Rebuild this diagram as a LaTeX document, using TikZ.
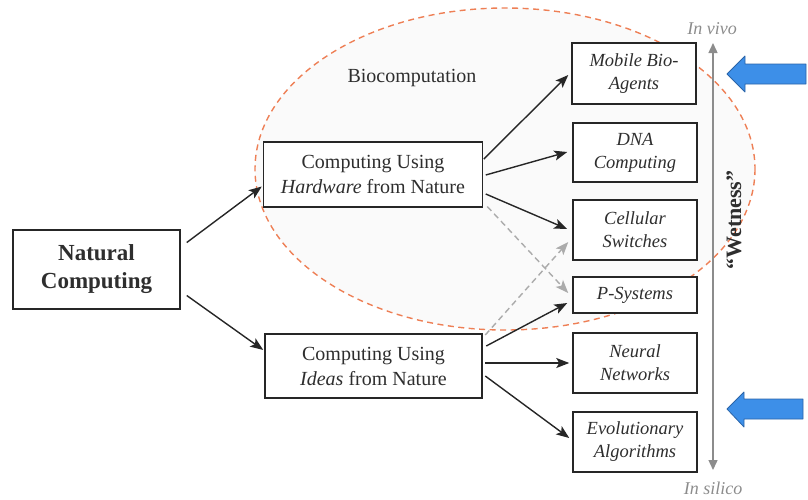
\documentclass[tikz,border=0pt]{standalone}
\usepackage{fontspec}
\setmainfont{Liberation Serif}
\usetikzlibrary{arrows.meta,calc}
\definecolor{txt}{HTML}{2E2E2E}
\definecolor{edge}{HTML}{262626}
\definecolor{ell}{HTML}{EE7F55}
\definecolor{blu}{HTML}{3D8FE8}
\definecolor{bluedge}{HTML}{2A64A8}
\definecolor{grayarr}{HTML}{8C8C8C}
\definecolor{dashgray}{HTML}{ABABAB}
\tikzset{
  box/.style={draw=edge, line width=1.5pt, fill=white, text=txt, align=center, inner sep=0pt},
  leftbox/.style={box, font=\fontsize{23}{28}\selectfont\bfseries, minimum width=167pt, minimum height=79pt},
  midbox/.style={box, font=\fontsize{20}{25}\selectfont, minimum width=219pt, minimum height=65pt},
  rbox/.style={box, font=\fontsize{18.5}{23}\selectfont\itshape, minimum width=124pt, minimum height=60pt},
  conn/.style={draw=edge, line width=1.4pt, -{Stealth[length=13pt,width=10pt,inset=3pt]}},
  dconn/.style={draw=dashgray, line width=1.4pt, dash pattern=on 6pt off 4pt, -{Stealth[length=13pt,width=10pt,inset=3pt]}},
  bluearrow/.style={fill=blu, draw=bluedge, line width=0.8pt, line join=round},
  scaletxt/.style={text=grayarr, font=\fontsize{18}{22}\selectfont\itshape},
}
\begin{document}
\begin{tikzpicture}[x=1pt,y=-1pt]
\useasboundingbox (0,0) rectangle (808,499);
% ellipse
\draw[ell, line width=1.4pt, dash pattern=on 6pt off 4.5pt, fill=black!2] (505,169) ellipse [x radius=250, y radius=161];
\node[text=txt, font=\fontsize{20}{24}\selectfont] (bio) at (412,78) {Biocomputation};
% nodes
\node[leftbox] (nc) at (96.5,269.5) {Natural\\Computing};
\node[midbox] (hw) at (373,174.5) {Computing Using\\\textit{Hardware} from Nature};
\node[midbox, minimum width=217pt, minimum height=64pt] (id) at (373.5,366) {Computing Using\\\textit{Ideas} from Nature};
\node[rbox, minimum height=61pt] (mb) at (634,73.5) {Mobile Bio-\\Agents};
\node[rbox, minimum height=59pt] (dna) at (635,152.5) {DNA\\Computing};
\node[rbox] (cs) at (635,230) {Cellular\\Switches};
\node[rbox, minimum height=36pt] (ps) at (635,295) {P-Systems};
\node[rbox] (nn) at (635,363) {Neural\\Networks};
\node[rbox] (ea) at (635,442) {Evolutionary\\Algorithms};
% connectors
\draw[conn] ($(nc.east)+(6,-27)$) -- ($(hw.west)+(-1,12)$);
\draw[conn] ($(nc.east)+(6,26)$) -- ($(id.west)+(-1,-16)$);
\draw[conn] ($(hw.east)+(0.5,-15.5)$) -- ($(mb.west)+(-3,1.5)$);
\draw[conn] ($(hw.east)+(2.5,0.5)$) -- ($(dna.west)+(-5,-0.5)$);
\draw[conn] ($(hw.east)+(2.5,19.5)$) -- ($(cs.west)+(-5,-1)$);
\draw[dconn] ($(hw.east)+(4,32)$) -- ($(ps.west)+(-4,-2)$);
\draw[dconn] ($(id.east)+(2.5,-31)$) -- ($(cs.west)+(-4,12)$);
\draw[conn] ($(id.east)+(3.5,-20)$) -- ($(ps.west)+(-5,8)$);
\draw[conn] ($(id.east)+(2.5,-3)$) -- ($(nn.west)+(-3,0)$);
\draw[conn] ($(id.east)+(2.5,10)$) -- ($(ea.west)+(-3,-4)$);
% wetness scale
\node[scaletxt] (vivo) at (712,29) {In vivo};
\node[scaletxt] (silico) at (713,488) {In silico};
\coordinate (top) at (713,43);
\coordinate (bot) at (713,470);
\draw[grayarr, line width=1.4pt, {Triangle[length=10pt,width=9pt]}-{Triangle[length=10pt,width=9pt]}] (top) -- (bot);
\node[rotate=90, text=txt, font=\fontsize{22}{26}\selectfont\bfseries] (wet) at (734,220) {“Wetness”};
% blue arrows
\draw[bluearrow] (727,74) -- (745,56) -- (745,64) -- (806,64) -- (806,84) -- (745,84) -- (745,92) -- cycle;
\draw[bluearrow] (727,409) -- (744,392) -- (744,399) -- (803,399) -- (803,419) -- (744,419) -- (744,427) -- cycle;
\end{tikzpicture}
\end{document}
